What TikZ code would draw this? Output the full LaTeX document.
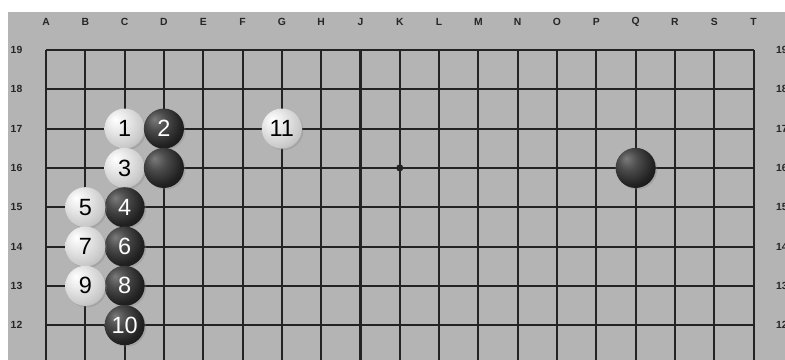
\documentclass[tikz,border=0pt]{standalone}
\usepackage{fontspec}
\setsansfont{Liberation Sans}
\usepackage{xcolor}
\usetikzlibrary{shadows}
\definecolor{boardgray}{RGB}{180,180,180}
\definecolor{gridcol}{RGB}{35,35,35}
\pgfdeclareradialshading{whiteball}{\pgfpoint{-12bp}{12bp}}{%
  color(0bp)=(white); color(12bp)=(black!8); color(28bp)=(black!20);
  color(44bp)=(black!36); color(62bp)=(black!52)}
\pgfdeclareradialshading{blackball}{\pgfpoint{-12bp}{12bp}}{%
  color(0bp)=(black!52); color(12bp)=(black!70); color(28bp)=(black!87);
  color(46bp)=(black!96); color(62bp)=(black)}

\begin{document}
\begin{tikzpicture}[
    gridline/.style={line width=1.5pt, draw=gridcol},
    coordlabel/.style={font=\sffamily\bfseries\fontsize{7.5}{8}\selectfont, text=black!85},
    stone/.style={circle, minimum size=1.02cm, inner sep=0pt,
                  font=\sffamily\fontsize{17}{17}\selectfont,
                  drop shadow={opacity=0.3, shadow xshift=0.04cm, shadow yshift=-0.04cm}},
    wstone/.style={stone, shading=whiteball, text=black},
    bstone/.style={stone, shading=blackball, text=white}
]
\useasboundingbox (-0.17,11.137) rectangle (19.80,20.272);
\clip (-0.17,11.137) rectangle (19.80,20.272);
\fill[white] (-0.17,11.137) rectangle (19.80,20.272);
\fill[boardgray] (0.033,11) rectangle (20,19.967);

% grid
\foreach \c in {1,...,19}
    \draw[gridline] (\c,19) -- (\c,11);
\foreach \r in {12,...,19}
    \draw[gridline] (1,\r) -- (19,\r);
\fill[gridcol] (10,16) circle (0.09);

% coordinates
\foreach \l [count=\i] in {A,B,C,D,E,F,G,H,J,K,L,M,N,O,P,Q,R,S,T}
    \node[coordlabel] (col\l) at (\i,19.71) {\l};
\foreach \r in {12,...,19} {
    \node[coordlabel] (left\r) at (0.25,\r) {\r};
    \node[coordlabel] (right\r) at (19.72,\r) {\r};
}

% stones
\node[wstone] (m1) at (3,17) {1};
\node[bstone] (m2) at (4,17) {2};
\node[wstone] (m3) at (3,16) {3};
\node[bstone] (d16) at (4,16) {};
\node[bstone] (m4) at (3,15) {4};
\node[wstone] (m5) at (2,15) {5};
\node[bstone] (m6) at (3,14) {6};
\node[wstone] (m7) at (2,14) {7};
\node[bstone] (m8) at (3,13) {8};
\node[wstone] (m9) at (2,13) {9};
\node[bstone] (m10) at (3,12) {10};
\node[wstone] (m11) at (7,17) {11};
\node[bstone] (q16) at (16,16) {};
\end{tikzpicture}
\end{document}
